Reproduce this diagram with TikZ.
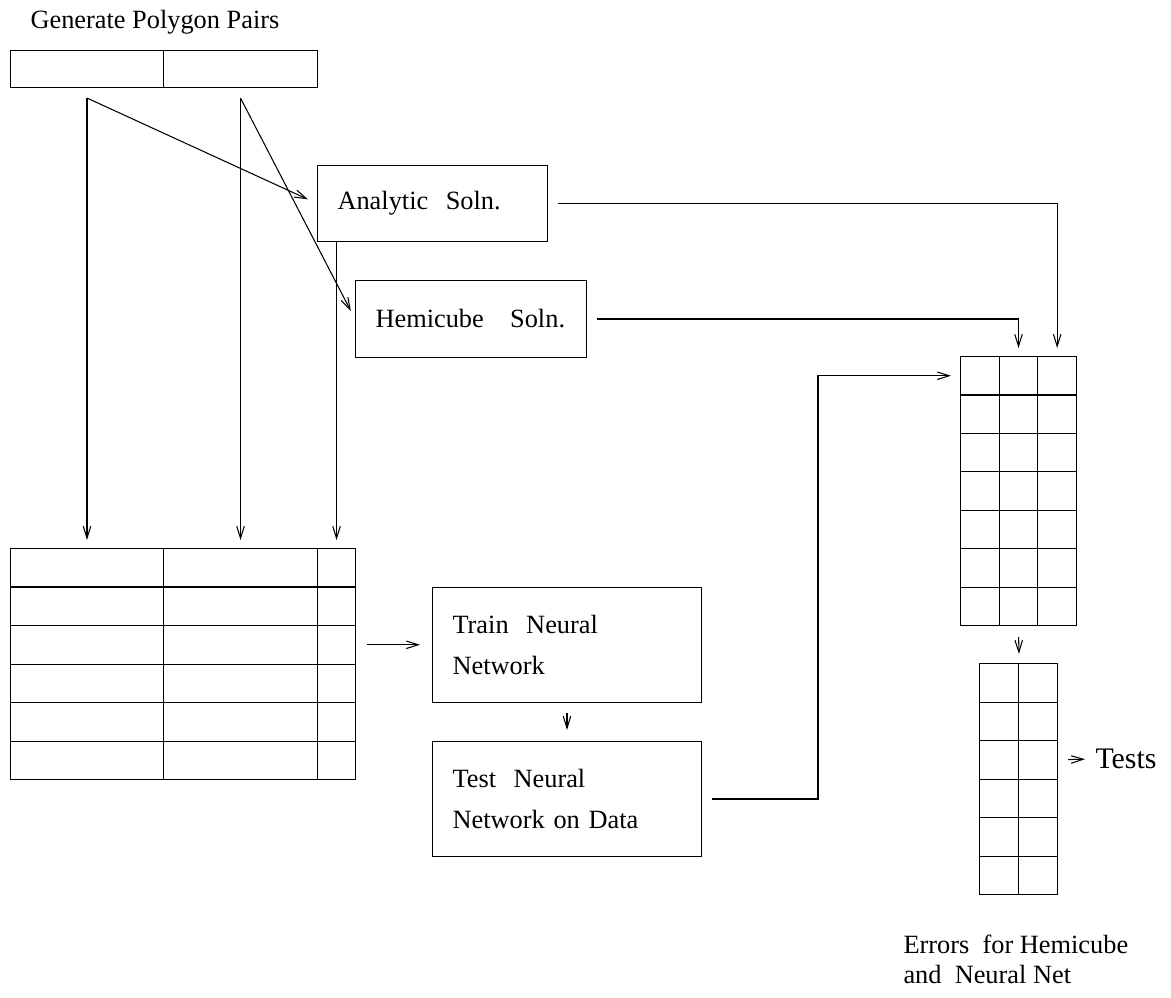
\documentclass[tikz,border=0pt]{standalone}
\usepackage{fontspec}
\setmainfont{Liberation Serif}
\usetikzlibrary{arrows.meta,calc}

\begin{document}
\begin{tikzpicture}[
  x=0.02cm, y=-0.02cm,
  >={Straight Barb[length=2.4mm,width=1.5mm]},
  line width=0.6pt,
  lbl/.style={font=\fontsize{15}{17}\selectfont, inner sep=0pt, align=left},
  box/.style={draw, font=\fontsize{15}{23}\selectfont, align=left, inner xsep=0.4cm, inner ysep=0pt, anchor=north west},
  cell/.style={draw, inner sep=0pt, anchor=north west},
  arr/.style={->, shorten >=0.16cm},
]
\useasboundingbox (0,0) rectangle (1171,998);

\node[lbl, anchor=base west] (gentitle) at (30,28) {Generate Polygon Pairs};
\node[cell, minimum width=3.06cm, minimum height=0.74cm] (pair-1) at (10,50) {};
\node[cell, minimum width=3.08cm, minimum height=0.74cm] (pair-2) at (163,50) {};

\node[box, text width=3.8cm, minimum height=1.52cm] (analytic) at (317,165) {Analytic\ \ Soln.};
\node[box, text width=3.82cm, minimum height=1.54cm] (hemicube) at (355,280) {Hemicube\ \ \ Soln.};
\node[box, text width=4.58cm, minimum height=2.3cm] (train) at (432,587) {Train\ \ Neural\\Network};
\node[box, text width=4.58cm, minimum height=2.3cm] (test) at (432,741) {Test\ \ Neural\\Network on Data};

\foreach \r in {1,...,6} {
  \node[cell, minimum width=3.06cm, minimum height=0.77cm] (data-\r-1) at (10, 509.5+38.5*\r) {};
  \node[cell, minimum width=3.08cm, minimum height=0.77cm] (data-\r-2) at (163, 509.5+38.5*\r) {};
  \node[cell, minimum width=0.76cm, minimum height=0.77cm] (data-\r-3) at (317, 509.5+38.5*\r) {};
}

\foreach \r in {1,...,7}
  \foreach \c in {1,2,3}
    \node[cell, minimum width=0.773cm, minimum height=0.769cm] (res-\r-\c) at (921.33+38.67*\c, 317.57+38.43*\r) {};

\foreach \r in {1,...,6}
  \foreach \c in {1,2}
    \node[cell, minimum width=0.78cm, minimum height=0.77cm] (err-\r-\c) at (940+39*\c, 624.5+38.5*\r) {};

\node[lbl, font=\fontsize{17}{20}\selectfont, anchor=west] (tests) at (1095,759) {Tests};
\node[lbl, anchor=base west] (errcap) at (903,953) {Errors\ \ for Hemicube};
\node[lbl, anchor=base west] (errcap2) at (903,983) {and\ \ Neural Net};

\draw[arr, shorten <=0.2cm] (pair-1) -- (data-1-1);
\draw[arr, shorten <=0.2cm] (pair-2) -- (data-1-2);
\draw[arr, shorten >=0.2cm] ([yshift=-0.2cm]pair-1.south) -- (analytic.west);
\draw[arr, shorten >=0.18cm] ([yshift=-0.2cm]pair-2.south) -- (hemicube.west);
\draw[arr] (analytic.south west -| data-1-3) -- (data-1-3);
\draw[arr, shorten <=0.2cm] (analytic.east) -| (res-1-3);
\draw[arr, shorten <=0.2cm] (hemicube.east) -| (res-1-2);
\draw[arr, shorten <=0.22cm, shorten >=0.24cm] (data-3-3.east) -- (data-3-3.east -| train.west);
\draw[arr, shorten <=0.2cm, shorten >=0.22cm] (train) -- (test);
\draw[arr, shorten <=0.2cm, shorten >=0.18cm] (test.east) -- ++(116,0) |- (res-1-1.west);
\draw[arr, shorten <=0.22cm, shorten >=0.18cm] (res-7-2.south) -- (err-1-1.north east);
\draw[arr, shorten <=0.2cm, shorten >=0.2cm] (err-3-2.east) -- (tests.west);

\end{tikzpicture}
\end{document}
